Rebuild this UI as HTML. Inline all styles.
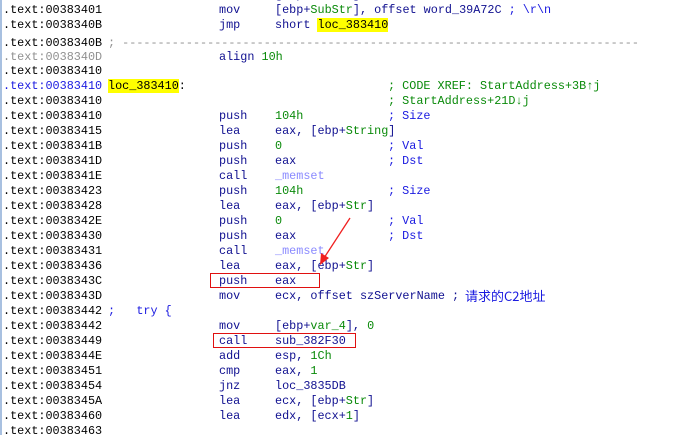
<!DOCTYPE html>
<html><head><meta charset="utf-8"><style>
html,body{margin:0;padding:0;background:#fff;width:698px;height:435px;overflow:hidden;position:relative}
body{font-family:"Liberation Mono","Noto Sans CJK SC",monospace;font-size:11.8px;color:#000}
.r{position:absolute;left:0;height:15px;line-height:15px;white-space:pre;width:698px}
.r span{position:absolute;top:0}
.a{left:3px}
.m{left:219px;color:#101090}
.o{left:275px;color:#101090}
.c{left:388px;color:#1a1ae0}
.l{left:108px}
.g{color:#0a8a0a}
.n{color:#101090}
.f{color:#8a8aff}
.y{background:#ffff00}
.b{color:#1a1ae0}
.gr{color:#909090}
</style></head><body>
<div style="position:absolute;left:0;top:0;width:2px;height:435px;background:#a8c0e0"></div>
<div class="r" style="top:-12px"><span class="o">[ebp+<span class="g" style="position:static">SubStr</span>]</span></div>
<div class="r" style="top:3px"><span class="a">.text:00383401</span><span class="m">mov</span><span class="o">[ebp+<span class="g" style="position:static">SubStr</span>], offset word_39A72C <span class="b" style="position:static">; \r\n</span></span></div>
<div class="r" style="top:18px"><span class="a">.text:0038340B</span><span class="m">jmp</span><span class="o">short <span class="y" style="position:static;color:#000">loc_383410</span></span></div>
<div class="r" style="top:36px"><span class="a">.text:0038340B</span><span class="l gr">; -------------------------------------------------------------------------</span></div>
<div class="r" style="top:50px"><span class="a gr">.text:0038340D</span><span class="m">align <span class="g" style="position:static">10h</span></span></div>
<div class="r" style="top:64px"><span class="a">.text:00383410</span></div>
<div class="r" style="top:79px"><span class="a" style="color:#1a1ae0">.text:00383410</span><span class="l"><span class="y" style="position:static">loc_383410</span>:</span><span class="c g" style="color:#0a8a0a">; CODE XREF: StartAddress+3B&#8593;j</span></div>
<div class="r" style="top:94px"><span class="a">.text:00383410</span><span class="c" style="color:#0a8a0a">; StartAddress+21D&#8595;j</span></div>
<div class="r" style="top:109px"><span class="a">.text:00383410</span><span class="m">push</span><span class="o g">104h</span><span class="c">; Size</span></div>
<div class="r" style="top:124px"><span class="a">.text:00383415</span><span class="m">lea</span><span class="o">eax, [ebp+<span class="g" style="position:static">String</span>]</span></div>
<div class="r" style="top:139px"><span class="a">.text:0038341B</span><span class="m">push</span><span class="o g">0</span><span class="c">; Val</span></div>
<div class="r" style="top:154px"><span class="a">.text:0038341D</span><span class="m">push</span><span class="o">eax</span><span class="c">; Dst</span></div>
<div class="r" style="top:169px"><span class="a">.text:0038341E</span><span class="m">call</span><span class="o f">_memset</span></div>
<div class="r" style="top:184px"><span class="a">.text:00383423</span><span class="m">push</span><span class="o g">104h</span><span class="c">; Size</span></div>
<div class="r" style="top:199px"><span class="a">.text:00383428</span><span class="m">lea</span><span class="o">eax, [ebp+<span class="g" style="position:static">Str</span>]</span></div>
<div class="r" style="top:214px"><span class="a">.text:0038342E</span><span class="m">push</span><span class="o g">0</span><span class="c">; Val</span></div>
<div class="r" style="top:229px"><span class="a">.text:00383430</span><span class="m">push</span><span class="o">eax</span><span class="c">; Dst</span></div>
<div class="r" style="top:244px"><span class="a">.text:00383431</span><span class="m">call</span><span class="o f">_memset</span></div>
<div class="r" style="top:259px"><span class="a">.text:00383436</span><span class="m">lea</span><span class="o">eax, [ebp+<span class="g" style="position:static">Str</span>]</span></div>
<div class="r" style="top:274px"><span class="a">.text:0038343C</span><span class="m">push</span><span class="o">eax</span></div>
<div class="r" style="top:289px"><span class="a">.text:0038343D</span><span class="m">mov</span><span class="o">ecx, offset szServerName ;</span><span class="b" style="left:465px;top:-1px;line-height:15px;height:15px;font-family:'Noto Sans CJK SC',sans-serif;font-size:13px">请求的C2地址</span></div>
<div class="r" style="top:304px"><span class="a">.text:00383442</span><span class="l" style="color:#1a1ae0">;   try {</span></div>
<div class="r" style="top:319px"><span class="a">.text:00383442</span><span class="m">mov</span><span class="o">[ebp+<span class="g" style="position:static">var_4</span>], <span class="g" style="position:static">0</span></span></div>
<div class="r" style="top:334px"><span class="a">.text:00383449</span><span class="m">call</span><span class="o">sub_382F30</span></div>
<div class="r" style="top:349px"><span class="a">.text:0038344E</span><span class="m">add</span><span class="o">esp, <span class="g" style="position:static">1Ch</span></span></div>
<div class="r" style="top:364px"><span class="a">.text:00383451</span><span class="m">cmp</span><span class="o">eax, <span class="g" style="position:static">1</span></span></div>
<div class="r" style="top:379px"><span class="a">.text:00383454</span><span class="m">jnz</span><span class="o">loc_3835DB</span></div>
<div class="r" style="top:394px"><span class="a">.text:0038345A</span><span class="m">lea</span><span class="o">ecx, [ebp+<span class="g" style="position:static">Str</span>]</span></div>
<div class="r" style="top:409px"><span class="a">.text:00383460</span><span class="m">lea</span><span class="o">edx, [ecx+<span class="g" style="position:static">1</span>]</span></div>
<div class="r" style="top:424px"><span class="a">.text:00383463</span></div>
<div style="position:absolute;left:210px;top:273px;width:108px;height:13px;border:1.5px solid #e01010"></div>
<div style="position:absolute;left:213px;top:333px;width:141px;height:13px;border:1.5px solid #e01010"></div>
<svg style="position:absolute;left:0;top:0" width="698" height="435"><line x1="350" y1="218" x2="324" y2="258" stroke="#f02020" stroke-width="1.3"/><polygon points="320,265 321,253 329,258" fill="#f02020"/></svg>
</body></html>
